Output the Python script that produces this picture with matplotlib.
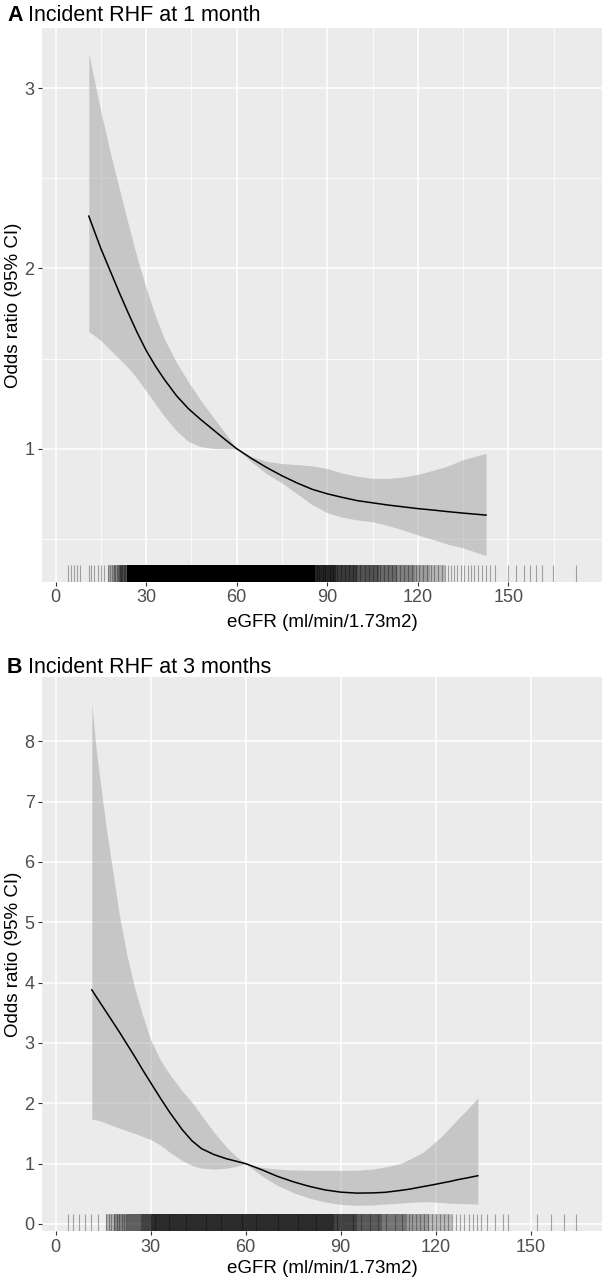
import matplotlib.pyplot as plt

plt.rcParams['font.family'] = ['Liberation Sans', 'DejaVu Sans']

# ---- panel A: incident RHF at 1 month ----
egfr_a = [11, 13, 15, 18, 21, 24, 27, 30, 33, 36, 40, 44, 48, 52, 56, 60,
          65, 70, 75, 80, 85, 90, 95, 100, 105, 110, 115, 120, 125, 130, 135, 142.6]
or_a = [2.29, 2.20, 2.11, 1.99, 1.87, 1.755, 1.645, 1.545, 1.46, 1.385, 1.295, 1.222,
        1.163, 1.108, 1.053, 1.0, 0.945, 0.895, 0.85, 0.81, 0.775, 0.75, 0.73, 0.712,
        0.70, 0.688, 0.678, 0.668, 0.66, 0.651, 0.643, 0.632]
hi_a = [3.19, 3.03, 2.87, 2.65, 2.45, 2.25, 2.06, 1.89, 1.74, 1.61, 1.48, 1.37,
        1.27, 1.18, 1.09, 1.0, 0.955, 0.93, 0.918, 0.912, 0.905, 0.89, 0.865, 0.847,
        0.836, 0.835, 0.843, 0.858, 0.88, 0.905, 0.94, 0.974]
lo_a = [1.65, 1.625, 1.60, 1.55, 1.50, 1.45, 1.39, 1.32, 1.25, 1.18, 1.10, 1.04,
        1.012, 1.002, 1.0, 1.0, 0.925, 0.86, 0.81, 0.75, 0.69, 0.645, 0.62, 0.605,
        0.595, 0.575, 0.55, 0.522, 0.497, 0.47, 0.45, 0.407]

# rug: single observations and dense runs (start, end, relative density)
rug_a = [4.2, 5.1, 6.0, 7.1, 8.0, 11.1, 11.8, 12.8, 14.1, 15.0, 16.0, 17.3, 18.0,
         18.6, 19.2, 19.7, 20.3, 20.8, 21.2, 21.7, 22.1, 22.6, 23.0,
         86.5, 87.3, 88.6, 89.4, 90.8, 92.0, 93.1, 94.5, 96.0, 97.2, 98.5, 99.6,
         101.0, 102.4, 103.7, 105.0, 106.4, 107.5, 108.9, 110.2, 111.6, 112.8,
         114.1, 115.5, 116.7, 118.0, 119.3, 120.5, 121.8, 123.0, 124.4, 125.5,
         126.8, 128.0, 129.1, 130.0, 131.0, 132.0, 133.1, 134.2, 135.3, 136.5,
         137.6, 138.6, 140.0, 141.2, 142.6, 144.0, 145.5, 149.7, 152.4, 155.0,
         157.0, 159.0, 161.0, 164.8, 172.4]
rug_a_dense = [(17.3, 19.0, 0.25), (19.0, 21.0, 0.4), (21.0, 23.5, 0.65),
               (23.5, 86.0, 1.0), (86.0, 93.0, 0.85), (93.0, 100.0, 0.75),
               (100.0, 107.0, 0.65), (107.0, 113.0, 0.55), (113.0, 119.0, 0.45),
               (119.0, 124.0, 0.33), (124.0, 129.0, 0.22)]

# ---- panel B: incident RHF at 3 months ----
egfr_b = [11.4, 12.5, 14, 16, 18, 20, 22.5, 25, 27.5, 30, 33, 36, 40, 43, 46, 50,
          54, 57, 60, 65, 70, 75, 80, 85, 90, 95, 100, 104, 108.7, 112, 116, 119.2,
          122, 124.5, 127, 130, 133.3]
or_b = [3.88, 3.79, 3.67, 3.51, 3.35, 3.19, 2.98, 2.77, 2.55, 2.34, 2.09, 1.85,
        1.56, 1.38, 1.25, 1.15, 1.08, 1.04, 1.0, 0.90, 0.79, 0.70, 0.625, 0.565,
        0.528, 0.512, 0.515, 0.525, 0.555, 0.58, 0.62, 0.65, 0.68, 0.705, 0.735,
        0.765, 0.80]
hi_b = [8.63, 8.0, 7.35, 6.55, 5.85, 5.15, 4.45, 3.9, 3.45, 3.05, 2.72, 2.48,
        2.20, 2.02, 1.80, 1.52, 1.27, 1.12, 1.0, 0.94, 0.91, 0.895, 0.89, 0.888,
        0.888, 0.89, 0.91, 0.945, 1.0, 1.08, 1.19, 1.33, 1.46, 1.60, 1.74, 1.90, 2.09]
lo_b = [1.74, 1.73, 1.71, 1.67, 1.63, 1.59, 1.545, 1.50, 1.45, 1.40, 1.31, 1.19,
        1.05, 0.97, 0.925, 0.91, 0.925, 0.955, 1.0, 0.80, 0.64, 0.52, 0.43, 0.365,
        0.325, 0.31, 0.315, 0.33, 0.345, 0.36, 0.37, 0.365, 0.355, 0.345, 0.34,
        0.335, 0.33]

rug_b = [4.0, 5.5, 7.3, 9.4, 11.3, 13.4, 15.9, 16.8, 17.6, 18.5, 19.3, 20.0, 20.8,
         21.6, 22.3, 31.2, 35.8, 41.0, 47.5, 52.3, 58.9, 63.4, 70.1, 76.5, 82.2,
         88.7, 94.0, 96.5, 99.1, 101.8, 104.4, 107.0, 109.3, 111.5, 112.6, 113.8,
         115.0, 116.3, 117.4, 118.8, 120.0, 121.3, 122.6, 124.0, 125.2, 126.5,
         127.8, 129.0, 130.5, 131.8, 133.0, 134.3, 136.2, 138.6, 141.1, 142.9,
         152.0, 156.3, 160.5, 164.2]
rug_b_dense = [(15.9, 18.5, 0.25), (18.5, 22.5, 0.45), (22.5, 27.0, 0.6),
               (27.0, 30.0, 0.72), (30.0, 88.0, 0.82), (88.0, 95.0, 0.72),
               (95.0, 103.0, 0.62), (103.0, 111.0, 0.5), (111.0, 118.0, 0.35),
               (118.0, 125.0, 0.22)]

x_ticks = [0, 30, 60, 90, 120, 150]

W, H = 602, 1282
fig = plt.figure(figsize=(W / 100, H / 100), dpi=100)


def add_panel(left, top, right, bottom):
    return fig.add_axes([left / W, 1 - bottom / H, (right - left) / W, (bottom - top) / H])


def draw_panel(ax, x, y, lo, hi, rug, dense, xlim, ylim, yticks, xminor, yminor):
    ax.set_facecolor('#EBEBEB')
    for s in ax.spines.values():
        s.set_visible(False)
    ax.set_xlim(*xlim)
    ax.set_ylim(*ylim)
    ax.set_xticks(x_ticks)
    ax.set_yticks(yticks)
    ax.set_xticks(xminor, minor=True)
    ax.set_yticks(yminor, minor=True)
    ax.set_axisbelow(True)
    ax.grid(which='major', color='white', lw=1.1)
    ax.grid(which='minor', color='white', lw=0.55)
    ax.tick_params(which='major', length=2.9, width=0.8, color='#333333',
                   labelcolor='#4D4D4D', labelsize=13, pad=2.5)
    ax.tick_params(which='minor', length=0)

    ax.fill_between(x, lo, hi, color='#999999', alpha=0.45, lw=0, zorder=2)
    ax.plot(x, y, color='black', lw=1.1, zorder=3)

    for a, b, d in dense:
        ax.axvspan(a, b, ymin=0, ymax=0.03, color='black', alpha=d, lw=0, zorder=2)
    ax.vlines(rug, 0, 0.03, transform=ax.get_xaxis_transform(),
              colors='black', alpha=0.32, lw=0.8, zorder=2)


axA = add_panel(42, 28, 602, 582)
axB = add_panel(42, 677, 602, 1231)

draw_panel(axA, egfr_a, or_a, lo_a, hi_a, rug_a, rug_a_dense,
           (-4.5, 181), (0.261, 3.333), [1, 2, 3],
           [15, 45, 75, 105, 135, 165], [0.5, 1.5, 2.5])
draw_panel(axB, egfr_b, or_b, lo_b, hi_b, rug_b, rug_b_dense,
           (-4.33, 172.5), (-0.116, 9.064), list(range(9)), [], [])


def title(letter, text, baseline_px):
    t = fig.text(7 / W, 1 - baseline_px / H, letter, weight='bold', size=15.5,
                 va='baseline', ha='left')
    axA.annotate(text, xy=(1, 0), xycoords=t, va='bottom', ha='left',
                 size=15.5, annotation_clip=False)


title('A', ' Incident RHF at 1 month', 21)
title('B', ' Incident RHF at 3 months', 673)

for base, mid in [(627, 305), (1273, 954)]:
    fig.text(322 / W, 1 - base / H, 'eGFR (ml/min/1.73m2)', size=13.5,
             ha='center', va='baseline')
    fig.text(14 / W, 1 - mid / H, 'Odds ratio (95% CI)', size=13.5,
             rotation=90, ha='center', va='center')

fig.savefig('out.png', dpi=100)
